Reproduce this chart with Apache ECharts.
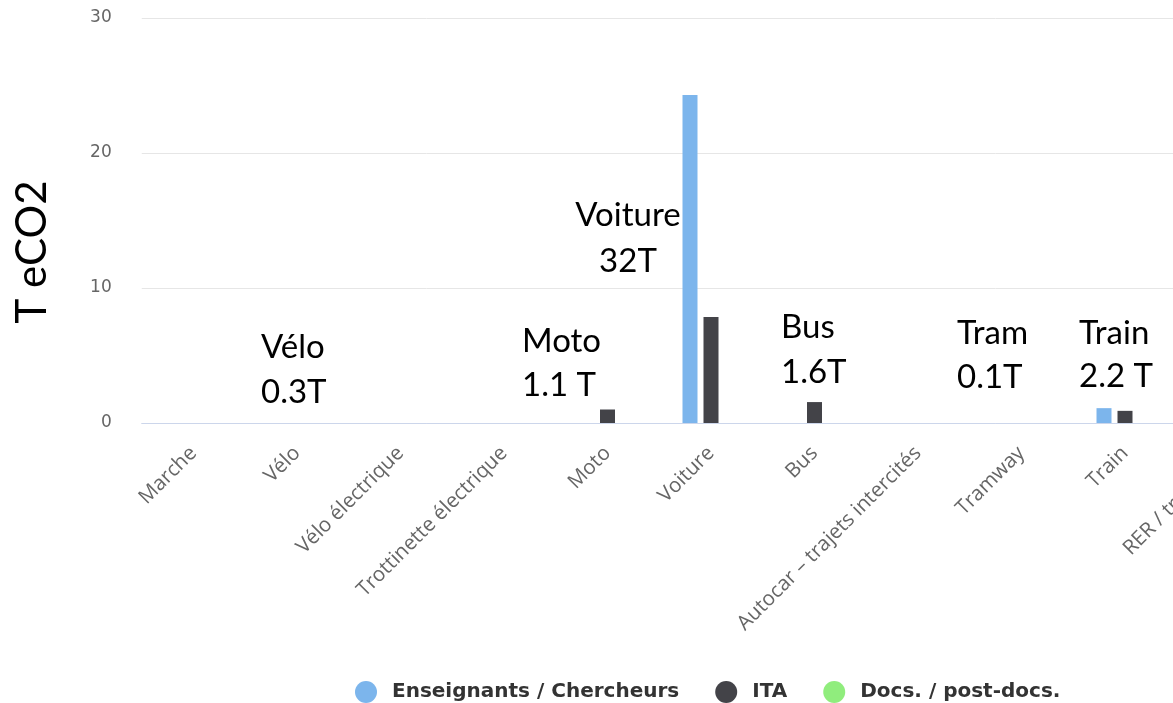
<!DOCTYPE html>
<html>
<head>
<meta charset="utf-8">
<script src="https://cdn.jsdelivr.net/npm/echarts@6/dist/echarts.min.js"></script>
<style>
  html, body { margin: 0; padding: 0; overflow: hidden; background: #fff; }
  #chart { width: 1440px; height: 703px; }
</style>
</head>
<body>
<div id="chart"></div>
<script>
// categories (the last one is cut by the window edge)
const categories = ['Marche', 'Vélo', 'Vélo électrique', 'Trottinette électrique', 'Moto', 'Voiture', 'Bus',
  'Autocar – trajets intercités', 'Tramway', 'Train', 'RER / transilien']
// T eCO2 per group
const enseignants = [0, 0, 0, 0, 0, 24.3, 0, 0, 0, 1.1, 0]
const ita = [0, 0, 0, 0, 1.0, 7.85, 1.55, 0, 0, 0.9, 0]
const docs = [0, 0, 0, 0, 0, 0, 0, 0, 0, 0, 0]
const seriesNames = ['Enseignants / Chercheurs', 'ITA', 'Docs. / post-docs.']
const yTicks = [0, 10, 20, 30]
// hand-written notes on top of the chart
const notes = [
  ['Vélo', '0.3T'],
  ['Moto', '1.1 T'],
  ['Voiture', '32T'],
  ['Bus', '1.6T'],
  ['Tram', '0.1T'],
  ['Train', '2.2 T']
]

const chart = echarts.init(document.getElementById('chart'))

// note placement (left x / center x, y of each line)
const notePos = [
  { x: 261, y: [347, 392], align: 'left' },
  { x: 522, y: [341, 385], align: 'left' },
  { x: 628, y: [215, 261], align: 'center' },
  { x: 781, y: [327, 372], align: 'left' },
  { x: 957, y: [333, 377], align: 'left' },
  { x: 1079, y: [333, 376], align: 'left' }
]
const graphics = []
notes.forEach((lines, i) => {
  lines.forEach((t, j) => {
    graphics.push({
      type: 'text',
      x: notePos[i].x,
      y: notePos[i].y[j],
      style: {
        text: t,
        fontFamily: 'Lato',
        fontSize: 33,
        fill: '#000',
        align: notePos[i].align,
        verticalAlign: 'middle'
      }
    })
  })
})
// y axis title
graphics.push({
  type: 'text',
  x: 32,
  y: 252,
  rotation: Math.PI / 2,
  style: {
    text: 'T eCO2',
    fontFamily: 'Lato',
    fontSize: 42,
    fill: '#000',
    align: 'center',
    verticalAlign: 'middle'
  }
})

const colors = ['#7cb5ec', '#434348', '#90ed7d']
const values = [enseignants, ita, docs]

const option = {
  animation: false,
  color: colors,
  grid: {
    left: 141.75,
    right: 159.75,
    top: 18,
    bottom: 280
  },
  legend: {
    data: seriesNames,
    icon: 'circle',
    itemWidth: 22,
    itemHeight: 22,
    itemGap: 36,
    left: 350,
    top: 676,
    textStyle: {
      fontFamily: 'DejaVu Sans',
      fontSize: 20,
      fontWeight: 'bold',
      color: '#333',
      padding: [0, 0, 0, 10]
    }
  },
  xAxis: {
    type: 'category',
    data: categories,
    axisLine: { lineStyle: { color: '#ccd6eb' } },
    axisTick: { show: false },
    axisLabel: {
      interval: 0,
      rotate: 45,
      margin: 27,
      color: '#666',
      fontFamily: 'Open Sans',
      fontSize: 20.5
    }
  },
  yAxis: {
    type: 'value',
    min: yTicks[0],
    max: yTicks[yTicks.length - 1],
    interval: 10,
    axisLine: { show: false },
    axisTick: { show: false },
    splitLine: { lineStyle: { color: '#e6e6e6' } },
    axisLabel: {
      margin: 30,
      color: '#666',
      fontFamily: 'DejaVu Sans',
      fontSize: 17
    }
  },
  series: seriesNames.map((name, i) => ({
    name: name,
    type: 'bar',
    data: values[i],
    barWidth: 15,
    barGap: '40%'
  })),
  graphic: graphics
}

chart.setOption(option)
</script>
</body>
</html>
